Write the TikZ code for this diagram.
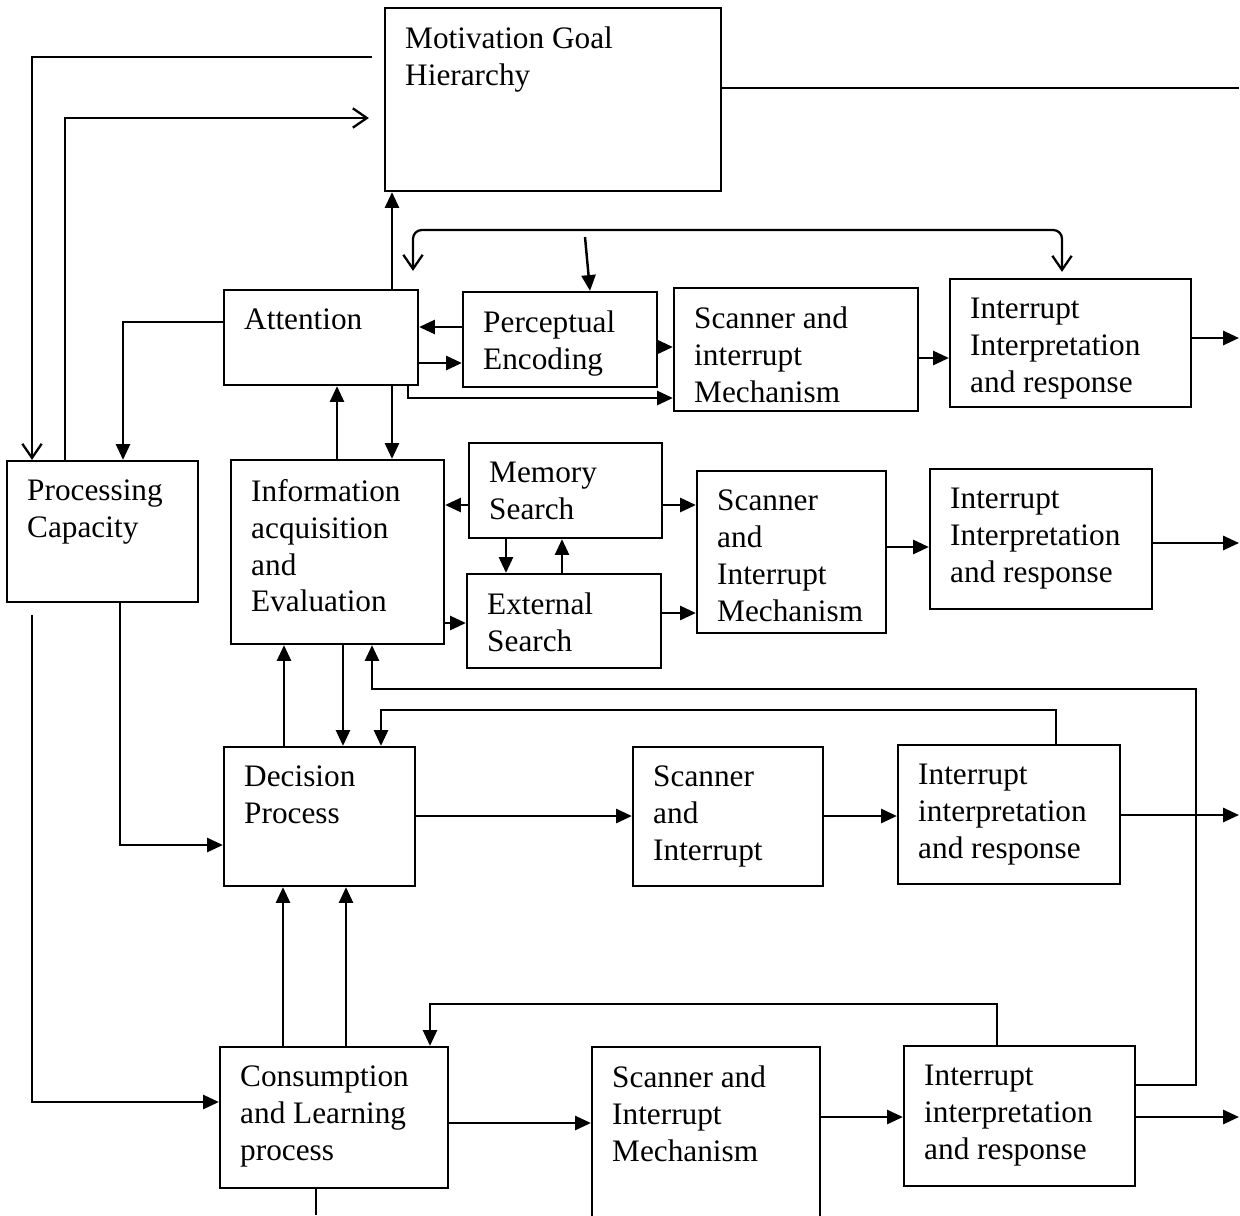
\documentclass[tikz,border=0pt]{standalone}
\usepackage{fontspec}
\setmainfont{Liberation Serif}
\usepackage{tikz}
\usetikzlibrary{arrows.meta}
\tikzset{
    box/.style={draw, line width=1.3pt},
    txt/.style={anchor=north west, align=left, inner xsep=0.42cm, inner ysep=0.4cm,
        font=\fontsize{17.8}{21}\selectfont},
    ln/.style={line width=1.3pt},
    arr/.style={line width=1.4pt, -{Triangle[length=9pt,width=8pt]}},
    oarr/.style={line width=1.3pt, -{Straight Barb[length=8pt,width=11pt]}},
    oarrs/.style={line width=1.3pt, {Straight Barb[length=8pt,width=11pt]}-{Straight Barb[length=8pt,width=11pt]}}
}

\begin{document}
\begin{tikzpicture}[x=0.02cm, y=-0.02cm]
            \useasboundingbox (0,0) rectangle (1240,1215);
            \clip (0,0) rectangle (1240,1215);

            \coordinate (rim) at (1239,0);
            \coordinate (rimB) at (0,1215);
            \coordinate (brk) at (585,237);

            \node[box, minimum width=6.72cm, minimum height=3.66cm, label={[txt]north west:{Motivation Goal\\Hierarchy}}] (mgh) at (553,99.5) {};

            \node[box, minimum width=3.88cm, minimum height=1.9cm, label={[txt]north west:{Attention}}] (att) at (321,337.5) {};
            \node[box, minimum width=3.88cm, minimum height=1.9cm, label={[txt]north west:{Perceptual\\Encoding}}] (perc) at (560,339.5) {};
            \node[box, minimum width=4.88cm, minimum height=2.46cm, label={[txt]north west:{Scanner and\\interrupt\\Mechanism}}] (scan1) at (796,349.5) {};
            \node[box, minimum width=4.82cm, minimum height=2.56cm, label={[txt]north west:{Interrupt\\Interpretation\\and response}}] (intr1) at (1070.5,343) {};

            \node[box, minimum width=3.82cm, minimum height=2.82cm, label={[txt]north west:{Processing\\Capacity}}] (proc) at (102.5,531.5) {};
            \node[box, minimum width=4.26cm, minimum height=3.68cm, label={[txt]north west:{Information\\acquisition\\and\\Evaluation}}] (info) at (337.5,552) {};
            \node[box, minimum width=3.86cm, minimum height=1.9cm, label={[txt]north west:{Memory\\Search}}] (mem) at (565.5,490.5) {};
            \node[box, minimum width=3.88cm, minimum height=1.88cm, label={[txt]north west:{External\\Search}}] (ext) at (564,621) {};
            \node[box, minimum width=3.78cm, minimum height=3.24cm, label={[txt]north west:{Scanner\\and\\Interrupt\\Mechanism}}] (scan2) at (791.5,552) {};
            \node[box, minimum width=4.44cm, minimum height=2.8cm, label={[txt]north west:{Interrupt\\Interpretation\\and response}}] (intr2) at (1041,539) {};

            \node[box, minimum width=3.82cm, minimum height=2.78cm, label={[txt]north west:{Decision\\Process}}] (dec) at (319.5,816.5) {};
            \node[box, minimum width=3.8cm, minimum height=2.78cm, label={[txt]north west:{Scanner\\and\\Interrupt}}] (scan3) at (728,816.5) {};
            \node[box, minimum width=4.44cm, minimum height=2.78cm, label={[txt]north west:{Interrupt\\interpretation\\and response}}] (intr3) at (1009,814.5) {};

            \node[box, minimum width=4.56cm, minimum height=2.82cm, label={[txt]north west:{Consumption\\and Learning\\process}}] (cons) at (334,1117.5) {};
            \node[box, minimum width=4.56cm, minimum height=4.26cm, label={[txt]north west:{Scanner and\\Interrupt\\Mechanism}}] (scan4) at (706,1153.5) {};
            \node[box, minimum width=4.62cm, minimum height=2.8cm, label={[txt]north west:{Interrupt\\interpretation\\and response}}] (intr4) at (1019.5,1116) {};

            % goal hierarchy loop
            \draw[oarr, shorten <=0.24cm] (mgh.west |- 0,57) -| (proc.north -| 32,0);
            \draw[oarr, shorten >=0.3cm] (proc.north -| 65,0) |- (mgh.west |- 0,118);
            \draw[ln] (mgh.east |- 0,88) -- (rim |- 0,88);

            \draw[arr] (att.north -| 392,0) -- (mgh.south -| 392,0);
            \draw[arr] (att.south -| 392,0) -- (info.north -| 392,0);
            \draw[arr] (info.north -| 337,0) -- (att.south -| 337,0);
            \draw[oarrs, rounded corners=5pt, shorten <=0.36cm, shorten >=0.12cm] (att.north -| 413,0) |- (700,230) -| (intr1.north -| 1062,0);
            \draw[arr] (brk) -- (perc.north -| 590,0);

            \draw[arr] (perc.west |- 0,327) -- (att.east |- 0,327);
            \draw[arr] (att.east |- 0,363) -- (perc.west |- 0,363);
            \draw[arr] (att.south -| 408,0) |- (scan1.west |- 0,398);
            \draw[arr] (perc.east |- 0,347) -- (scan1.west |- 0,347);
            \draw[arr] (scan1.east |- 0,358) -- (intr1.west |- 0,358);
            \draw[arr] (intr1.east |- 0,338) -- (rim |- 0,338);
            \draw[arr] (att.west |- 0,322) -| (proc.north -| 123,0);

            \draw[arr] (mem.west |- 0,505) -- (info.east |- 0,505);
            \draw[arr] (info.east |- 0,623) -- (ext.west |- 0,623);
            \draw[arr] (mem.south -| 506,0) -- (ext.north -| 506,0);
            \draw[arr] (ext.north -| 562,0) -- (mem.south -| 562,0);
            \draw[arr] (mem.east |- 0,505) -- (scan2.west |- 0,505);
            \draw[arr] (ext.east |- 0,613) -- (scan2.west |- 0,613);
            \draw[arr] (scan2.east |- 0,547) -- (intr2.west |- 0,547);
            \draw[arr] (intr2.east |- 0,543) -- (rim |- 0,543);

            % feedback lines
            \draw[arr] (info.south -| 343,0) -- (dec.north -| 343,0);
            \draw[arr] (dec.north -| 284,0) -- (info.south -| 284,0);
            \draw[arr] (intr4.east |- 0,1085) -| (1196,689) -| (info.south -| 372,0);
            \draw[arr] (intr3.north -| 1056,0) |- (381,710) -- (dec.north -| 381,0);
            \draw[arr] (proc.south -| 120,0) |- (dec.west |- 0,845);
            \draw[arr, shorten <=0.24cm] (proc.south -| 32,0) |- (cons.west |- 0,1102);
            \draw[arr] (cons.north -| 283,0) -- (dec.south -| 283,0);
            \draw[arr] (cons.north -| 346,0) -- (dec.south -| 346,0);
            \draw[arr] (intr4.north -| 997,0) |- (430,1004) -- (cons.north -| 430,0);

            \draw[arr] (dec.east |- 0,816) -- (scan3.west |- 0,816);
            \draw[arr] (scan3.east |- 0,816) -- (intr3.west |- 0,816);
            \draw[arr] (intr3.east |- 0,815) -- (rim |- 0,815);
            \draw[arr] (cons.east |- 0,1123) -- (scan4.west |- 0,1123);
            \draw[arr] (scan4.east |- 0,1117) -- (intr4.west |- 0,1117);
            \draw[arr] (intr4.east |- 0,1117) -- (rim |- 0,1117);
            \draw[ln] (cons.south -| 316,0) -- (rimB -| 316,0);
\end{tikzpicture}
\end{document}
